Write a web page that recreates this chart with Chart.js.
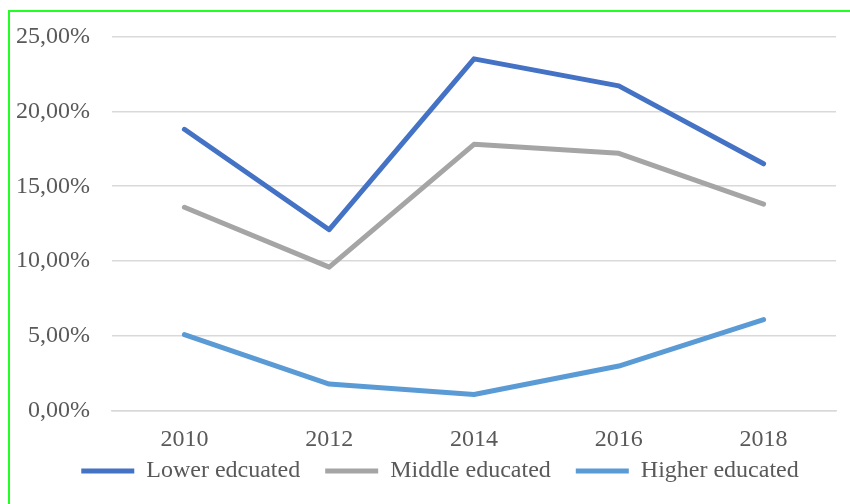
<!DOCTYPE html>
<html>
<head>
<meta charset="utf-8">
<script src="https://cdn.jsdelivr.net/npm/chart.js@4/dist/chart.umd.min.js"></script>
<style>
  html, body { margin: 0; padding: 0; background: #fff; }
  #wrap { position: relative; width: 850px; height: 504px; overflow: hidden; }
  #frame { position: absolute; left: 8px; top: 10px; width: 900px; height: 600px;
           border-top: 2px solid #22ff22; border-left: 2px solid #22ff22; }
  canvas { position: absolute; left: 0; top: 0; }
</style>
</head>
<body>
<div id="wrap">
  <div id="frame"></div>
  <canvas id="chart" width="850" height="504"></canvas>
</div>
<script>
// Data
var years = ['2010', '2012', '2014', '2016', '2018'];
var lowerEducated = [18.8, 12.1, 23.5, 21.7, 16.5];
var middleEducated = [13.6, 9.6, 17.8, 17.2, 13.8];
var higherEducated = [5.1, 1.8, 1.1, 3.0, 6.1];

var font = 'Liberation Serif, Times New Roman, serif';

function lineSet(label, data, color) {
    return {
        label: label,
        data: data,
        borderColor: color,
        backgroundColor: color,
        borderWidth: 5,
        borderCapStyle: 'round',
        borderJoinStyle: 'round',
        pointRadius: 0,
        tension: 0,
        fill: false
    };
}

// move the legend a bit and let the x labels hang below their box
var nudge = {
    id: 'nudge',
    afterLayout: function (chart) {
        var lg = chart.legend;
        lg.left += 17; lg.right += 17;
        lg.top -= 11; lg.bottom -= 11;
        chart.scales.x.bottom = chart.height;
    }
};

var ctx = document.getElementById('chart').getContext('2d');
var chart = new Chart(ctx, {
    type: 'line',
    data: {
        labels: years,
        datasets: [
            lineSet('Lower edcuated', lowerEducated, '#4472c4'),
            lineSet('Middle educated', middleEducated, '#a5a5a5'),
            lineSet('Higher educated', higherEducated, '#5b9bd5')
        ]
    },
    plugins: [nudge],
    options: {
        responsive: false,
        animation: false,
        layout: { padding: { left: 10, right: 14, top: 22, bottom: 0 } },
        plugins: {
            tooltip: { enabled: false },
            legend: {
                position: 'bottom',
                labels: {
                    usePointStyle: true,
                    pointStyle: 'line',
                    pointStyleWidth: 53,
                    padding: 25,
                    color: '#595959',
                    font: { family: font, size: 24 }
                }
            }
        },
        scales: {
            x: {
                offset: true,
                afterFit: function (scale) { scale.height = 34; },
                grid: { display: false, drawTicks: false },
                border: { display: true, color: '#d9d9d9', width: 1.5 },
                ticks: { color: '#595959', padding: 14, font: { family: font, size: 24 } }
            },
            y: {
                min: 0,
                max: 25,
                afterFit: function (scale) { scale.width = 102; },
                grid: { color: '#d9d9d9', lineWidth: 1.5, drawTicks: false },
                border: { display: false },
                ticks: {
                    stepSize: 5,
                    padding: 22,
                    color: '#595959',
                    font: { family: font, size: 24 },
                    callback: function (v) { return v.toFixed(2).replace('.', ',') + '%'; }
                }
            }
        }
    }
});
</script>
</body>
</html>
